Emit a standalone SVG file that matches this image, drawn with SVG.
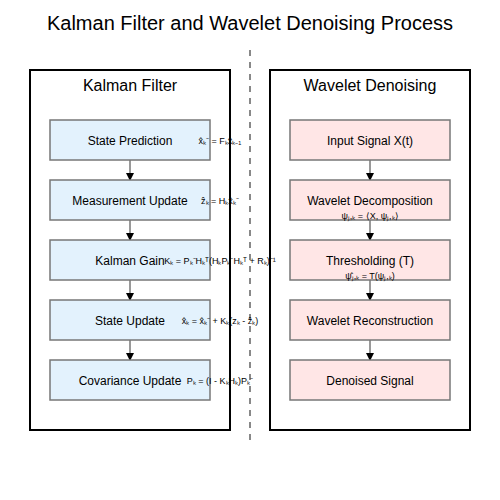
<svg xmlns="http://www.w3.org/2000/svg" width="500" height="500" viewBox="0 0 500 500">
<defs>
<marker id="ah" markerWidth="8" markerHeight="8" refX="7" refY="4" orient="auto" markerUnits="userSpaceOnUse">
<path d="M0,0 L8,4 L0,8 Z" fill="#000"/>
</marker>
<style>
text{font-family:"Liberation Sans",Arial,sans-serif;fill:#000;text-anchor:middle}
.title{font-size:20px}
.sec{font-size:16px}
.lbl{font-size:12px}
.f{font-size:9px}
.cont{fill:#fff;stroke:#000;stroke-width:2}
.kb{fill:#e3f2fd;stroke:#777;stroke-width:1.5}
.wb{fill:#ffe6e6;stroke:#777;stroke-width:1.5}
.conn line{stroke:#777;stroke-width:1.5;marker-end:url(#ah)}
</style>
</defs>
<rect width="500" height="500" fill="#fff"/>
<text class="title" x="250" y="30">Kalman Filter and Wavelet Denoising Process</text>
<line x1="250" y1="50" x2="250" y2="445" stroke="#888" stroke-width="2" stroke-dasharray="6,6"/>
<g id="kalman-filter">
<rect class="cont" x="30" y="70" width="200" height="360"/>
<text class="sec" x="130" y="91">Kalman Filter</text>
</g>
<g id="wavelet-denoising">
<rect class="cont" x="270" y="70" width="200" height="360"/>
<text class="sec" x="370" y="91">Wavelet Denoising</text>
</g>
<g class="conn" id="connectors">
<line x1="130" y1="160" x2="130" y2="180"/>
<line x1="130" y1="220" x2="130" y2="240"/>
<line x1="130" y1="280" x2="130" y2="300"/>
<line x1="130" y1="340" x2="130" y2="360"/>
<line x1="370" y1="160" x2="370" y2="180"/>
<line x1="370" y1="220" x2="370" y2="240"/>
<line x1="370" y1="280" x2="370" y2="300"/>
<line x1="370" y1="340" x2="370" y2="360"/>
</g>
<g id="state-prediction"><rect class="kb" x="50" y="120" width="160" height="40"/><text class="lbl" x="130" y="145">State Prediction</text><text class="f" x="220" y="144">x̂ₖ⁻ = Fₖx̂ₖ₋₁</text></g>
<g id="measurement-update"><rect class="kb" x="50" y="180" width="160" height="40"/><text class="lbl" x="130" y="205">Measurement Update</text><text class="f" x="220" y="204">ẑₖ = Hₖx̂ₖ⁻</text></g>
<g id="kalman-gain"><rect class="kb" x="50" y="240" width="160" height="40"/><text class="lbl" x="130" y="265">Kalman Gain</text><text class="f" x="220" y="264">Kₖ = Pₖ⁻Hₖᵀ(HₖPₖ⁻Hₖᵀ + Rₖ)⁻¹</text></g>
<g id="state-update"><rect class="kb" x="50" y="300" width="160" height="40"/><text class="lbl" x="130" y="325">State Update</text><text class="f" x="220" y="324">x̂ₖ = x̂ₖ⁻ + Kₖ(zₖ - ẑₖ)</text></g>
<g id="covariance-update"><rect class="kb" x="50" y="360" width="160" height="40"/><text class="lbl" x="130" y="385">Covariance Update</text><text class="f" x="220" y="384">Pₖ = (I - KₖHₖ)Pₖ⁻</text></g>
<g id="input-signal"><rect class="wb" x="290" y="120" width="160" height="40"/><text class="lbl" x="370" y="145">Input Signal X(t)</text></g>
<g id="wavelet-decomposition"><rect class="wb" x="290" y="180" width="160" height="40"/><text class="lbl" x="370" y="205">Wavelet Decomposition</text><text class="f" x="370" y="219">ψⱼ,ₖ = ⟨X, ψⱼ,ₖ⟩</text></g>
<g id="thresholding"><rect class="wb" x="290" y="240" width="160" height="40"/><text class="lbl" x="370" y="265">Thresholding (T)</text><text class="f" x="370" y="279">ψ̂ⱼ,ₖ = T(ψⱼ,ₖ)</text></g>
<g id="wavelet-reconstruction"><rect class="wb" x="290" y="300" width="160" height="40"/><text class="lbl" x="370" y="325">Wavelet Reconstruction</text></g>
<g id="denoised-signal"><rect class="wb" x="290" y="360" width="160" height="40"/><text class="lbl" x="370" y="385">Denoised Signal</text></g>
</svg>
